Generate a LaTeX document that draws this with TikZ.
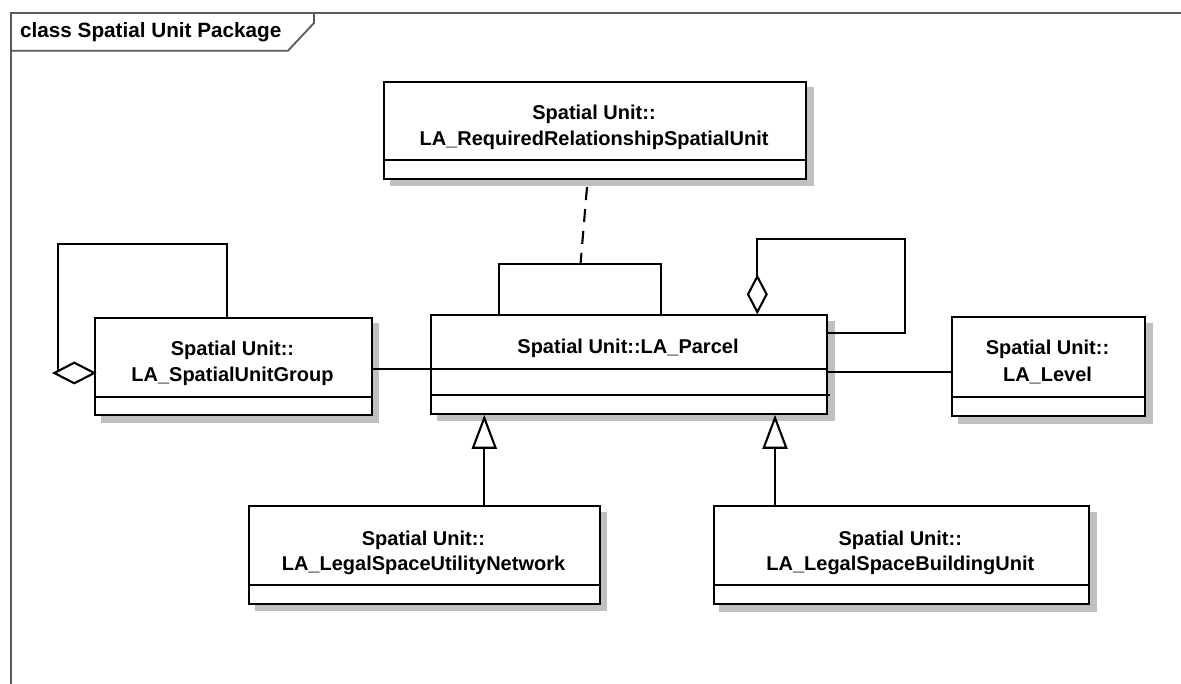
\documentclass[tikz,border=0pt]{standalone}
\usepackage{fontspec}
\setmainfont{Liberation Sans}
\usetikzlibrary{calc,backgrounds,arrows.meta}

\definecolor{framegray}{RGB}{90,90,90}
\definecolor{shadowgray}{RGB}{192,192,192}

\tikzset{
  classbox/.style={draw=black, line width=2.1pt, fill=white, inner sep=0pt, anchor=north west},
  compline/.style={draw=black, line width=1.9pt},
  conn/.style={draw=black, line width=2.1pt},
  dashedconn/.style={conn, dash pattern=on 13pt off 9pt},
  classtext/.style={font=\fontsize{20}{24}\selectfont\bfseries, anchor=base, inner sep=0pt},
  titletext/.style={font=\fontsize{20.7}{24}\selectfont\bfseries, anchor=base west, inner sep=0pt},
  framestroke/.style={draw=framegray, line width=1.8pt},
  gen/.style={-{Triangle[length=34pt,width=25pt,fill=white]}},
  aggr/.style={-{Diamond[length=40pt,width=21pt,fill=white]}},
}

\begin{document}
\begin{tikzpicture}[x=1pt,y=-1pt]
  \useasboundingbox (0,0) rectangle (1181,684);

  % diagram frame and its name tab
  \draw[framestroke] (11,684) -- (11,13) -- (1181,13);
  \draw[framestroke] (11,50.7) -- (288,50.7) -- (314,23) -- (314,13);
  \node[titletext] (title) at (20,37.3) {class Spatial Unit Package};

  % class boxes
  \node[classbox, minimum width=422pt,   minimum height=97pt]   (req)    at (383,80.7)  {};
  \node[classbox, minimum width=396pt,   minimum height=98.4pt] (parcel) at (430,314.3) {};
  \node[classbox, minimum width=276.4pt, minimum height=97.3pt] (sug)    at (94.3,317)  {};
  \node[classbox, minimum width=193pt,   minimum height=98.7pt] (level)  at (951,316.3) {};
  \node[classbox, minimum width=350.4pt, minimum height=97.7pt] (util)   at (248.3,505) {};
  \node[classbox, minimum width=375.3pt, minimum height=98.3pt] (bldg)   at (712.7,505) {};

  % drop shadows behind the boxes
  \begin{pgfonlayer}{background}
    \fill[white] (0,0) rectangle (1181,684);
    \foreach \n in {req,parcel,sug,level,util,bldg}
      \fill[shadowgray] ($(\n.north west)+(6.5,6.5)$) rectangle ($(\n.south east)+(6.5,6.5)$);
  \end{pgfonlayer}

  % compartment separators
  \draw[compline] (req.west |- 0,160)      -- (req.east |- 0,160);
  \draw[compline] (parcel.west |- 0,368.7) -- (parcel.east |- 0,368.7);
  \draw[compline] (parcel.west |- 0,394.7) -- ($(parcel.east |- 0,394.7)+(2,0)$);
  \draw[compline] (sug.west |- 0,396.7)    -- (sug.east |- 0,396.7);
  \draw[compline] (level.west |- 0,397)    -- (level.east |- 0,397);
  \draw[compline] (util.west |- 0,585)     -- (util.east |- 0,585);
  \draw[compline] (bldg.west |- 0,585)     -- (bldg.east |- 0,585);

  % class names
  \node[classtext] (reqA)    at (594,119.3)   {Spatial Unit::};
  \node[classtext] (reqB)    at (594,146)     {LA\_RequiredRelationshipSpatialUnit};
  \node[classtext] (parcelA) at (628,354)     {Spatial Unit::LA\_Parcel};
  \node[classtext] (sugA)    at (232.5,355.7) {Spatial Unit::};
  \node[classtext] (sugB)    at (232.5,381.7) {LA\_SpatialUnitGroup};
  \node[classtext] (levelA)  at (1047.5,355)  {Spatial Unit::};
  \node[classtext] (levelB)  at (1047.5,381.7){LA\_Level};
  \node[classtext] (utilA)   at (423.5,545)   {Spatial Unit::};
  \node[classtext] (utilB)   at (423.5,570.7) {LA\_LegalSpaceUtilityNetwork};
  \node[classtext] (bldgA)   at (900.3,545)   {Spatial Unit::};
  \node[classtext] (bldgB)   at (900.3,570.7) {LA\_LegalSpaceBuildingUnit};

  % plain associations
  \draw[conn] (sug.east |- 0,369)    -- (parcel.west |- 0,369);
  \draw[conn] (parcel.east |- 0,372) -- (level.west |- 0,372);

  % self association on LA_Parcel used by the association class
  \coordinate (umid) at (580.5,264.3);
  \draw[conn] (parcel.north -| 499,0) -- (499,264.3) -- (661,264.3) -- (parcel.north -| 661,0);
  \draw[dashedconn] ($(req.south -| 587,0)+(0,7.3)$) -- (umid);

  % aggregation of LA_Parcel with itself
  \draw[conn, aggr] (parcel.east |- 0,332.7) -- (905.3,332.7) -- (905.3,238.7)
                    -- (757.3,238.7) -- (parcel.north -| 757.3,0);

  % aggregation of LA_SpatialUnitGroup with itself
  \coordinate (sugagg) at ($(sug.north west)+(0,56)$);
  \draw[conn] (sug.north -| 226.7,0) -- (226.7,244.3) -- (57.7,244.3) -- (57.7,372);
  \filldraw[conn, fill=white] (sugagg) -- ++(-20,-10.3) -- ++(-20,10.3) -- ++(20,10.3) -- cycle;

  % generalizations
  \draw[conn, gen] (util.north -| 484.3,0) -- (parcel.south -| 484.3,0);
  \draw[conn, gen] (bldg.north -| 775,0)   -- (parcel.south -| 775,0);
\end{tikzpicture}
\end{document}
